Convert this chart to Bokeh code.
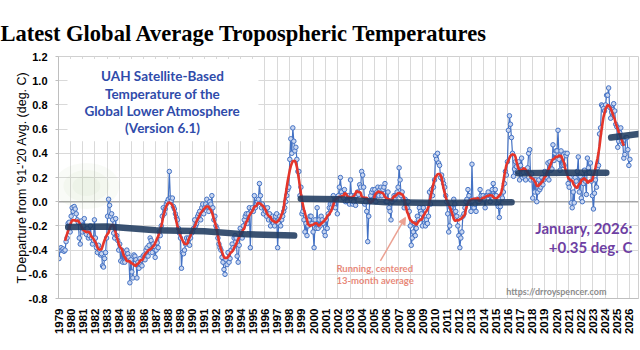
import math
import numpy as np
from bokeh.plotting import figure
from bokeh.models import (FixedTicker, NumeralTickFormatter, Label, BoxAnnotation,
                          Span, Arrow, NormalHead)
from bokeh.embed import file_html
from bokeh.resources import INLINE

# ---------------- data (monthly anomalies, deg C) ----------------
y1979 = [-0.47, -0.40, -0.38, -0.40, -0.39, -0.41, -0.40, -0.33, -0.30, -0.18, -0.17, -0.25]
y1980 = [-0.12, -0.05, -0.08, -0.04, -0.06, -0.10, -0.15, -0.17, -0.30, -0.35, -0.16, -0.25]
y1981 = [-0.20, -0.14, -0.25, -0.27, -0.22, -0.30, -0.28, -0.20, -0.30, -0.35, -0.32, -0.15]
y1982 = [-0.30, -0.38, -0.42, -0.36, -0.40, -0.44, -0.43, -0.53, -0.54, -0.47, -0.42, -0.30]
y1983 = [-0.12, 0.02, -0.03, -0.12, -0.10, -0.15, -0.26, -0.30, -0.14, -0.28, -0.32, -0.40]
y1984 = [-0.35, -0.49, -0.40, -0.50, -0.42, -0.50, -0.45, -0.40, -0.43, -0.46, -0.67, -0.48]
y1985 = [-0.58, -0.63, -0.44, -0.45, -0.48, -0.63, -0.50, -0.55, -0.47, -0.52, -0.53, -0.45]
y1986 = [-0.44, -0.48, -0.40, -0.38, -0.45, -0.36, -0.30, -0.32, -0.42, -0.35, -0.37, -0.46]
y1987 = [-0.40, -0.34, -0.38, -0.25, -0.28, -0.20, -0.12, -0.05, -0.10, -0.06, -0.02, 0.00]
y1988 = [0.02, 0.25, 0.03, 0.01, 0.03, -0.04, -0.06, -0.10, -0.13, -0.15, -0.22, -0.26]
y1989 = [-0.30, -0.55, -0.42, -0.43, -0.40, -0.35, -0.30, -0.33, -0.30, -0.36, -0.30, -0.26]
y1990 = [-0.25, -0.22, -0.15, -0.20, -0.18, -0.12, -0.10, -0.08, -0.15, -0.05, -0.02, -0.10]
y1991 = [-0.05, -0.02, 0.02, -0.04, -0.08, 0.00, -0.02, 0.05, -0.05, -0.15, -0.12, -0.20]
y1992 = [-0.22, -0.30, -0.35, -0.38, -0.40, -0.46, -0.50, -0.56, -0.60, -0.48, -0.52, -0.42]
y1993 = [-0.50, -0.47, -0.40, -0.35, -0.38, -0.30, -0.28, -0.30, -0.45, -0.50, -0.36, -0.22]
y1994 = [-0.25, -0.30, -0.20, -0.15, -0.12, -0.10, -0.18, -0.10, -0.05, -0.38, -0.08, -0.05]
y1995 = [-0.08, 0.05, -0.05, -0.02, 0.00, 0.02, 0.15, 0.05, -0.05, -0.02, -0.10, -0.05]
y1996 = [-0.08, -0.12, -0.05, -0.15, -0.10, -0.20, -0.15, -0.12, -0.18, -0.20, -0.12, -0.10]
y1997 = [-0.38, -0.18, -0.12, -0.20, -0.15, -0.12, -0.08, -0.05, 0.00, 0.05, 0.10, 0.12]
y1998 = [0.35, 0.52, 0.40, 0.61, 0.50, 0.42, 0.45, 0.35, 0.25, 0.25, 0.05, 0.12]
y1999 = [-0.10, -0.08, -0.15, -0.25, -0.18, -0.28, -0.20, -0.15, -0.12, -0.12, -0.18, -0.25]
y2000 = [-0.38, -0.15, -0.22, -0.05, -0.22, -0.15, -0.20, -0.12, -0.15, -0.18, -0.25, -0.28]
y2001 = [-0.15, -0.22, -0.10, -0.05, -0.02, -0.05, -0.02, 0.05, -0.02, -0.05, 0.02, -0.10]
y2002 = [0.05, 0.12, 0.20, 0.08, 0.05, 0.03, 0.10, 0.00, 0.05, 0.00, 0.05, -0.02]
y2003 = [0.18, 0.05, -0.02, 0.00, 0.05, -0.03, 0.05, 0.08, 0.06, 0.14, 0.12, 0.25]
y2004 = [0.22, 0.12, -0.02, 0.00, -0.08, -0.33, -0.12, 0.00, 0.05, 0.08, 0.10, 0.02]
y2005 = [0.10, 0.00, 0.08, 0.12, 0.05, 0.10, 0.12, 0.05, 0.10, 0.12, 0.15, 0.00]
y2006 = [0.00, 0.08, -0.05, -0.08, -0.15, 0.00, 0.02, 0.05, 0.02, 0.05, 0.08, 0.12]
y2007 = [0.28, 0.18, 0.05, 0.08, 0.02, -0.05, 0.02, 0.00, -0.05, 0.00, -0.08, -0.20]
y2008 = [-0.36, -0.30, -0.25, -0.18, -0.28, -0.22, -0.12, -0.15, -0.05, -0.08, -0.10, -0.20]
y2009 = [-0.05, -0.15, -0.20, -0.15, -0.18, -0.12, 0.08, -0.02, 0.10, 0.05, 0.12, 0.18]
y2010 = [0.38, 0.35, 0.40, 0.32, 0.30, 0.20, 0.22, 0.18, 0.15, 0.12, 0.05, 0.00]
y2011 = [-0.10, -0.25, -0.20, -0.05, -0.08, -0.10, 0.02, -0.02, -0.08, -0.12, -0.20, -0.28]
y2012 = [-0.38, -0.30, -0.25, -0.12, -0.10, -0.05, 0.00, 0.02, 0.10, 0.05, 0.00, -0.08]
y2013 = [0.31, 0.00, -0.05, -0.02, -0.08, 0.02, 0.00, 0.00, 0.10, 0.05, 0.02, 0.05]
y2014 = [0.02, -0.05, 0.05, 0.05, 0.08, 0.05, 0.00, 0.05, 0.10, 0.15, 0.05, 0.10]
y2015 = [0.05, -0.02, -0.04, -0.13, -0.04, 0.05, 0.03, 0.08, 0.15, 0.25, 0.22, 0.33]
y2016 = [0.59, 0.71, 0.64, 0.53, 0.40, 0.21, 0.27, 0.33, 0.29, 0.25, 0.33, 0.18]
y2017 = [0.30, 0.36, 0.20, 0.24, 0.21, 0.18, 0.25, 0.28, 0.40, 0.43, 0.18, 0.23]
y2018 = [0.03, 0.18, 0.08, 0.18, 0.00, 0.08, 0.18, 0.10, 0.12, 0.20, 0.14, 0.18]
y2019 = [0.25, 0.22, 0.20, 0.32, 0.18, 0.33, 0.26, 0.27, 0.47, 0.34, 0.40, 0.42]
y2020 = [0.42, 0.59, 0.35, 0.26, 0.42, 0.30, 0.31, 0.30, 0.40, 0.38, 0.40, 0.15]
y2021 = [0.12, 0.20, -0.01, -0.05, 0.08, -0.01, 0.20, 0.17, 0.25, 0.37, 0.08, 0.21]
y2022 = [0.03, 0.00, 0.15, 0.26, 0.17, 0.06, 0.36, 0.28, 0.24, 0.32, 0.17, 0.05]
y2023 = [-0.06, 0.07, 0.18, 0.12, 0.28, 0.30, 0.56, 0.61, 0.80, 0.79, 0.77, 0.75]
y2024 = [0.80, 0.88, 0.88, 0.94, 0.78, 0.69, 0.74, 0.76, 0.81, 0.75, 0.64, 0.62]
y2025 = [0.45, 0.50, 0.57, 0.61, 0.50, 0.48, 0.36, 0.39, 0.53, 0.53, 0.43, 0.30]
y2026 = [0.35]

year_ticks = list(range(1979, 2027))
y_ticks = [-0.8, -0.6, -0.4, -0.2, 0.0, 0.2, 0.4, 0.6, 0.8, 1.0, 1.2]

# hand-drawn "step" overlay segments (decimal year, deg C)
seg1_x = [1979.8, 1983.0, 1987.0, 1991.0, 1994.5, 1998.4]
seg1_y = [-0.21, -0.205, -0.235, -0.245, -0.27, -0.28]
seg2_x = [1998.95, 2002.0, 2006.0, 2010.5, 2016.3]
seg2_y = [0.025, 0.02, -0.005, -0.01, -0.005]
seg3_x = [2016.85, 2020.5, 2024.1]
seg3_y = [0.235, 0.24, 0.24]
seg4_x = [2024.5, 2026.75]
seg4_y = [0.53, 0.56]

all_years = [y1979, y1980, y1981, y1982, y1983, y1984, y1985, y1986, y1987, y1988,
             y1989, y1990, y1991, y1992, y1993, y1994, y1995, y1996, y1997, y1998,
             y1999, y2000, y2001, y2002, y2003, y2004, y2005, y2006, y2007, y2008,
             y2009, y2010, y2011, y2012, y2013, y2014, y2015, y2016, y2017, y2018,
             y2019, y2020, y2021, y2022, y2023, y2024, y2025, y2026]
monthly = []
for arr in all_years:
    monthly.extend(arr)
monthly = np.array(monthly)
t = 1979 + (np.arange(len(monthly)) + 0.5) / 12.0

# 13-month centred running mean
rm = np.convolve(monthly, np.ones(13) / 13.0, mode="valid")
t_rm = t[6:-6]

# ---------------- figure ----------------
p = figure(width=640, height=350, x_range=(1979, 2026.75), y_range=(-0.8, 1.2),
           output_backend="svg", toolbar_location=None,
           min_border_left=58, min_border_right=2, min_border_top=56, min_border_bottom=52)
p.background_fill_color = "white"
p.border_fill_color = "white"
p.outline_line_color = "#D0D0D0"

p.title.text = "Latest Global Average Tropospheric Temperatures"
p.title.text_font = "Liberation Serif"
p.title.text_font_size = "22.5px"
p.title.text_font_style = "bold"
p.title.text_color = "black"
p.title.align = "left"
p.title.offset = -58
p.title.standoff = 22

# axes
p.xaxis.ticker = FixedTicker(ticks=year_ticks)
p.xaxis.major_label_orientation = math.pi / 2
p.xaxis.major_label_text_font = "Liberation Sans"
p.xaxis.major_label_text_font_style = "bold"
p.xaxis.major_label_text_font_size = "11.5px"
p.xaxis.major_label_text_color = "black"
p.xaxis.major_label_standoff = 4
p.xaxis.major_tick_line_color = None
p.xaxis.minor_tick_line_color = None
p.xaxis.axis_line_color = "#BFBFBF"

p.yaxis.ticker = FixedTicker(ticks=y_ticks)
p.yaxis.formatter = NumeralTickFormatter(format="0.0")
p.yaxis.major_label_text_font = "Liberation Sans"
p.yaxis.major_label_text_font_style = "bold"
p.yaxis.major_label_text_font_size = "11px"
p.yaxis.major_label_text_color = "black"
p.yaxis.major_label_standoff = 8
p.yaxis.major_tick_out = 3
p.yaxis.major_tick_in = 0
p.yaxis.major_tick_line_color = "#BFBFBF"
p.yaxis.minor_tick_line_color = None
p.yaxis.axis_line_color = "#BFBFBF"
p.yaxis.axis_label = "T Departure from '91-'20 Avg. (deg. C)"
p.yaxis.axis_label_text_font = "Liberation Sans"
p.yaxis.axis_label_text_font_style = "normal"
p.yaxis.axis_label_text_font_size = "12.5px"
p.yaxis.axis_label_text_color = "black"
p.yaxis.axis_label_standoff = -3

p.xgrid.ticker = FixedTicker(ticks=year_ticks)
p.xgrid.grid_line_color = "#D9D9D9"
p.ygrid.ticker = FixedTicker(ticks=y_ticks)
p.ygrid.grid_line_color = "#D9D9D9"

p.add_layout(Span(location=0, dimension="width", line_color="#A6A6A6", line_width=1.5,
                  level="underlay"))

# faint green haze top-left
p.ellipse(x=[1981.3, 1981.3, 1981.3], y=[0.13, 0.13, 0.13],
          width=[66, 46, 28], height=[46, 32, 20],
          width_units="screen", height_units="screen",
          fill_color="#A9C48C", fill_alpha=0.07, line_color=None)

# white text box
p.add_layout(BoxAnnotation(left=1979.74, right=1995.46, bottom=0.50, top=1.18,
                           fill_color="white", fill_alpha=1.0, line_color=None,
                           level="underlay"))

# data
p.line(t, monthly, line_color="#4472C4", line_width=1.2)
p.scatter(t, monthly, size=4.5, line_color="#4472C4", fill_color="#C9D6F0", line_width=1)
p.line(t_rm, rm, line_color="#E5352A", line_width=2.6)

for sx, sy in [(seg1_x, seg1_y), (seg2_x, seg2_y), (seg3_x, seg3_y), (seg4_x, seg4_y)]:
    p.line(sx, sy, line_color="#1F3A5E", line_width=6.5, line_alpha=0.88, line_cap="round")

# annotations
box_lines = ["UAH Satellite-Based", "Temperature of the", "Global Lower Atmosphere", "(Version 6.1)"]
box_y = [1.041, 0.893, 0.752, 0.612]
for txt, yy in zip(box_lines, box_y):
    p.add_layout(Label(x=1987.56, y=yy, text=txt, text_align="center", text_baseline="middle",
                       text_font="Lato", text_font_style="bold", text_font_size="13.5px",
                       text_color="#2F4BAA"))

p.add_layout(Label(x=2026.24, y=-0.215, text="January, 2026:", text_align="right",
                   text_baseline="middle", text_font="Lato", text_font_style="bold",
                   text_font_size="15px", text_color="#6E3FA3"))
p.add_layout(Label(x=2026.24, y=-0.372, text="+0.35 deg. C", text_align="right",
                   text_baseline="middle", text_font="Lato", text_font_style="bold",
                   text_font_size="15px", text_color="#6E3FA3"))
p.add_layout(Label(x=2019.99, y=-0.744, text="https://drroyspencer.com", text_align="center",
                   text_baseline="middle", text_font="Lato", text_font_style="bold",
                   text_font_size="9px", text_color="#8C8C8C"))
p.add_layout(Label(x=2001.88, y=-0.554, text="Running, centered", text_align="left",
                   text_baseline="middle", text_font="Lato", text_font_style="bold",
                   text_font_size="9.5px", text_color="#E8897A"))
p.add_layout(Label(x=2001.88, y=-0.653, text="13-month average", text_align="left",
                   text_baseline="middle", text_font="Lato", text_font_style="bold",
                   text_font_size="9.5px", text_color="#E8897A"))
p.add_layout(Arrow(end=NormalHead(size=7, fill_color="#EBA192", line_color="#EBA192"),
                   x_start=2005.5, y_start=-0.49, x_end=2007.56, y_end=-0.13,
                   line_color="#EBA192", line_width=1.5))

open("out.html", "w").write(file_html(p, INLINE))
